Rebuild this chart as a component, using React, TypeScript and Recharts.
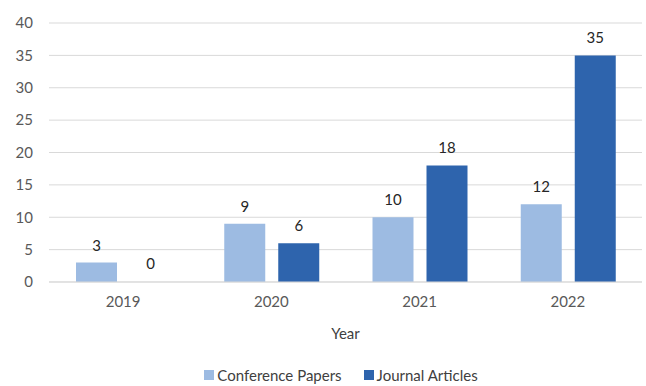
import React from 'react';
import { BarChart, Bar, Cell, XAxis, YAxis, CartesianGrid, Legend, LabelList, Label } from 'recharts';

const years = ['2019', '2020', '2021', '2022'];
const conferencePapers = [3, 9, 10, 12];
const journalArticles = [0, 6, 18, 35];
const yTicks = [0, 5, 10, 15, 20, 25, 30, 35, 40];

const LIGHT = '#9dbbe2';
const DARK = '#2e64ad';
const FONT = 'Lato, "Open Sans", sans-serif';

const data = years.map((year, i) => ({
  year,
  conference: conferencePapers[i],
  journal: journalArticles[i],
}));

// value label drawn above each bar
function TopLabel(props: any) {
  const { x, y, width, value } = props;
  if (value == null) return null;
  return (
    <text
      x={Number(x) + Number(width) / 2}
      y={Number(y) - 12}
      textAnchor="middle"
      fill="#262626"
      fontSize={15}
      fontFamily={FONT}
    >
      {value}
    </text>
  );
}

function LegendRow() {
  const items = [
    { label: 'Conference Papers', color: LIGHT },
    { label: 'Journal Articles', color: DARK },
  ];
  return (
    <div
      style={{
        display: 'flex',
        justifyContent: 'center',
        gap: 22,
        paddingLeft: 40,
        fontFamily: FONT,
        fontSize: 15,
        color: '#404040',
        lineHeight: '20px',
      }}
    >
      {items.map((it) => (
        <span key={it.label} style={{ display: 'flex', alignItems: 'center' }}>
          <span style={{ width: 10, height: 10, background: it.color, marginRight: 3 }} />
          {it.label}
        </span>
      ))}
    </div>
  );
}

export default function App() {
  return (
    <div style={{ position: 'absolute', left: 0, top: 0, background: '#fff' }}>
      <BarChart
        width={646}
        height={386}
        data={data}
        margin={{ top: 23, right: 4, bottom: 0, left: 0 }}
        barSize={41}
        barGap={13}
      >
        <CartesianGrid vertical={false} stroke="#d9d9d9" />
        <YAxis
          width={49}
          domain={[0, 40]}
          ticks={yTicks}
          axisLine={false}
          tickLine={false}
          tickMargin={10}
          tick={{ fill: '#595959', fontSize: 15, fontFamily: FONT }}
        />
        <XAxis
          dataKey="year"
          height={83}
          axisLine={{ stroke: '#d9d9d9' }}
          tickLine={false}
          tickMargin={8}
          tick={{ fill: '#595959', fontSize: 15, fontFamily: FONT }}
        >
          <Label
            value="Year"
            position="insideBottom"
            offset={26}
            style={{ fill: '#404040', fontSize: 15, fontFamily: FONT }}
          />
        </XAxis>
        <Legend verticalAlign="bottom" content={<LegendRow />} wrapperStyle={{ paddingBottom: 1 }} />
        <Bar dataKey="conference" name="Conference Papers" fill={LIGHT} isAnimationActive={false}>
          <LabelList dataKey="conference" content={<TopLabel />} />
        </Bar>
        {/* zero counts keep a 1px invisible stub so their label still shows */}
        <Bar dataKey="journal" name="Journal Articles" fill={DARK} minPointSize={1} isAnimationActive={false}>
          {journalArticles.map((v, i) => (
            <Cell key={years[i]} fill={v === 0 ? 'transparent' : DARK} />
          ))}
          <LabelList dataKey="journal" content={<TopLabel />} />
        </Bar>
      </BarChart>
    </div>
  );
}
